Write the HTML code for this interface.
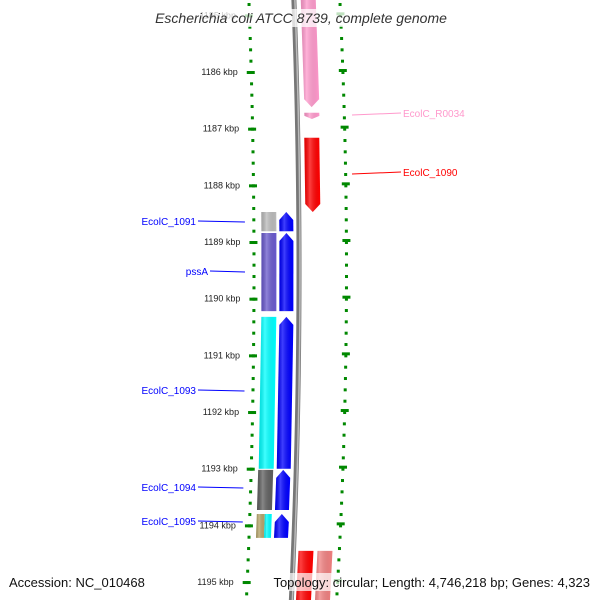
<!DOCTYPE html>
<html><head><meta charset="utf-8"><style>
html,body{margin:0;padding:0;background:#fff;width:600px;height:600px;overflow:hidden}
svg{display:block;overflow:hidden;font-family:"Liberation Sans","DejaVu Sans",sans-serif}
</style></head><body>
<svg id="map" width="600" height="600" viewBox="0 0 600 600" xmlns="http://www.w3.org/2000/svg">
<defs>
<linearGradient id="hl" x1="0" x2="1" y1="0" y2="0">
<stop offset="0" stop-color="#000" stop-opacity="0.12"/>
<stop offset="0.35" stop-color="#fff" stop-opacity="0.25"/>
<stop offset="1" stop-color="#000" stop-opacity="0"/>
</linearGradient>
<clipPath id="frame"><rect x="0" y="0" width="600" height="600"/></clipPath>
</defs>
<g clip-path="url(#frame)">
<g id="ticks"></g>
<g id="backbone"></g>
<g id="feats"></g>
<g id="labels"></g>
<g>
<rect x="140" y="9" width="322" height="18" fill="#fff" fill-opacity="0.75"/>
<text x="301" y="23" text-anchor="middle" font-size="14" font-style="italic" fill="#333">Escherichia coli ATCC 8739, complete genome</text>
</g>
<g>
<text x="9" y="587" font-size="13" fill="#111">Accession: NC_010468</text>
<rect x="258" y="573" width="334" height="18" fill="#fff" fill-opacity="0.7"/>
<text x="590" y="587" font-size="13" text-anchor="end" fill="#111">Topology: circular; Length: 4,746,218 bp; Genes: 4,323</text>
</g>
</g>
</svg>
<script>
// data
const majorTicks = [1185,1186,1187,1188,1189,1190,1191,1192,1193,1194,1195,1196];
const tickLabels = ["1185 kbp","1186 kbp","1187 kbp","1188 kbp","1189 kbp","1190 kbp","1191 kbp","1192 kbp","1193 kbp","1194 kbp","1195 kbp","1196 kbp"];
const featNames = ["EcolC_R0034a","EcolC_R0034","EcolC_1090","EcolC_1091","pssA","EcolC_1093","EcolC_1094","EcolC_1095","EcolC_1096","EcolC_1097"];
const featStart = [1184.3,1186.72,1187.16,1188.47,1188.84,1190.32,1193.02,1193.80,1194.45,1194.45];
const featEnd   = [1186.62,1186.83,1188.47,1188.81,1190.22,1193.00,1193.73,1194.22,1196.2,1196.2];
const featStrand= [-1,-1,-1,1,1,1,1,1,-1,-1];

const NS="http://www.w3.org/2000/svg";
const yS = k => 72 + (k-1186)*56.67;
const bend = y => -7e-5*(y-270)*(y-270);
const rightX = y => 346 + 1.3*bend(y);
function mk(tag,attrs,parent){const e=document.createElementNS(NS,tag);for(const a in attrs)e.setAttribute(a,attrs[a]);parent.appendChild(e);return e;}
const tg=document.getElementById('ticks');
for(let k=1184.6;k<=1196.0;k+=0.2){
  const y=yS(k); if(y<-3||y>599) continue;
  const r=mk('rect',{x:252.5+bend(y),y:y-1,width:3,height:3,fill:'#080'},tg);
  
  
  const r2=mk('rect',{x:rightX(y)-1,y:y-1,width:3,height:3,fill:'#080'},tg);
  
  
}
majorTicks.forEach((k,i)=>{
  const y=yS(k); if(y<-3||y>599) return;
  const x=253.5+bend(y);
  const t=mk('rect',{x:x-4,y:y-1,width:8,height:3,fill:'#080'},tg);
  
  
  const xr=rightX(y-3)+0.5;
  const t2=mk('rect',{x:xr-4,y:y-3,width:8,height:3,fill:'#080'},tg);
  
  
  const tx=mk('text',{x:x-13,y:y+3,'font-size':9,'text-anchor':'end',fill:'#222'},tg);
  
  
  tx.textContent=tickLabels[i];
});
const bb=document.getElementById('backbone');
let d='';for(let y=-5;y<=605;y+=10){d+=(y<0?'M':'L')+(299+bend(y)*1.0)+' '+y;}
const bp=mk('path',{d:d,stroke:'#777',"stroke-width":5,fill:'none'},bb);


mk('path',{d:d,stroke:'#bbb',"stroke-width":1.5,fill:'none',transform:'translate(1,0)'},bb);
const style = {
 "EcolC_R0034a":[306,15,'#ff99cc'],"EcolC_R0034":[306,15,'#ff99cc'],"EcolC_1090":[305.5,15,'#ff0000'],
 "EcolC_1091":[261.5,15,'#bbbbbb'],"pssA":[261.5,15,'#6a5acd'],"EcolC_1093":[261.5,15,'#00ffff'],
 "EcolC_1094":[261,15,'#606060'],"EcolC_1095":[261,15,'#00ffff'],
 "EcolC_1096":[304,15,'#ff0000'],"EcolC_1097":[323,15,'#f08080']};
const fg=document.getElementById('feats');
function feat(name,x0,w,col,k1,k2,strand,arrow){
  const y1=yS(k1),y2=yS(k2),ah=Math.min(8,(y2-y1)/2);
  const b1=bend(y1),b2=bend(y2);
  let pts;
  if(!arrow) pts=[[x0+b1,y1],[x0+w+b1,y1],[x0+w+b2,y2],[x0+b2,y2]];
  else if(strand>0) pts=[[x0+w/2+b1,y1],[x0+w+b1,y1+ah],[x0+w+b2,y2],[x0+b2,y2],[x0+b1,y1+ah]];
  else pts=[[x0+b1,y1],[x0+w+b1,y1],[x0+w+b2,y2-ah],[x0+w/2+b2,y2],[x0+b2,y2-ah]];
  const s=pts.map(p=>p.join(',')).join(' ');
  const p=mk('polygon',{points:s,fill:col},fg);
  
  
  mk('polygon',{points:s,fill:'url(#hl)'},fg);
}
featNames.forEach((n,i)=>{
  const st=style[n];
  const outer = (n.startsWith('EcolC_R')||n==='EcolC_1090'||n==='EcolC_1096'||n==='EcolC_1097');
  if(outer){ feat(n,st[0],st[1],st[2],featStart[i],featEnd[i],featStrand[i],true); }
  else{
    if(n==='EcolC_1095'){
      feat(n+'-a',st[0],8,'#b5a46a',featStart[i],featEnd[i],1,false);
      feat(n+'-b',st[0]+8,7,'#00ffff',featStart[i],featEnd[i],1,false);
    } else feat(n,st[0],st[1],st[2],featStart[i],featEnd[i],1,false);
    feat(n+'-cds',st[0]+18,14,'#0000ff',featStart[i],featEnd[i],1,true);
  }
});
const lblNames=["EcolC_1091","pssA","EcolC_1093","EcolC_1094","EcolC_1095"];
const lblY=[221,271,390,487,521];
const lg=document.getElementById('labels');
lblNames.forEach((n,i)=>{
  const y=lblY[i];
  const ln=mk('line',{x1:n==='pssA'?210:198,y1:y,x2:245+bend(y)*0.5,y2:y+1,stroke:'#0000ff','stroke-width':1},lg);
  
  
  const t=mk('text',{x:n==='pssA'?208:196,y:y+4,'font-size':10,'text-anchor':'end',fill:'#0000ff'},lg);
  
  
  t.textContent=n;
});
const rl=[["EcolC_R0034",113,'#ff99cc'],["EcolC_1090",172,'#ff0000']];
rl.forEach(r=>{
  const ln=mk('line',{x1:352,y1:r[1]+2,x2:401,y2:r[1],stroke:r[2],'stroke-width':1},lg);
  
  
  const t=mk('text',{x:403,y:r[1]+4,'font-size':10,fill:r[2]},lg);
  
  
  t.textContent=r[0];
});
</script>
</body></html>
